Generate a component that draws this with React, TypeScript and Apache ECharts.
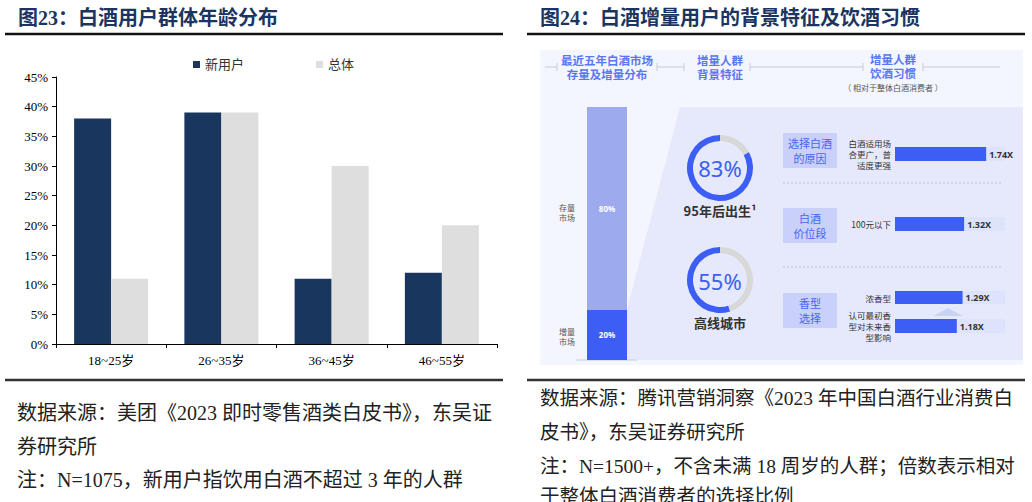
import React, { useEffect, useRef } from 'react';
import * as echarts from 'echarts';

// ---- Left chart data ----
const ageGroups = ['18~25岁', '26~35岁', '36~45岁', '46~55岁'];
const newUsers = [38, 39, 11, 12];
const allUsers = [11, 39, 30, 20];
const seriesNames = ['新用户', '总体'];

// ---- Right infographic data ----
const marketNames = ['增量市场', '存量市场'];
const marketShares = [20, 80];
const profileNames = ['95年后出生¹', '高线城市'];
const profileShares = [83, 55];
const habitGroups = ['选择白酒\n的原因', '白酒\n价位段', '香型\n选择'];
const habitLabels = ['白酒适用场\n合更广，普\n适度更强', '100元以下', '浓香型', '认可最初香\n型对未来香\n型影响'];
const habitRatios = [1.74, 1.32, 1.29, 1.18];

const SERIF = "'Liberation Serif', 'Noto Sans CJK SC', serif";
const SANS = "'Noto Sans CJK SC', 'Noto Sans', sans-serif";
const BLUE = '#3d5ef5';

export default function App() {
  const ref = useRef<HTMLDivElement>(null);
  useEffect(() => {
    const chart = echarts.init(ref.current!, undefined, { renderer: 'svg' });

    const txt = (x: number, y: number, text: string, o: any = {}) => ({
      type: 'text', x, y, z: 20,
      style: {
        text, fill: o.fill || '#222', fontSize: o.size || 12, fontFamily: o.family || SANS,
        fontWeight: o.weight || 'normal', textAlign: o.align || 'left', textVerticalAlign: 'middle',
        lineHeight: o.lh,
      },
    });
    const ln = (x1: number, y1: number, x2: number, y2: number, stroke: string, w = 1, dash?: number[], z = 5) => ({
      type: 'line', z, shape: { x1, y1, x2, y2 }, style: { stroke, lineWidth: w, lineDash: dash },
    });

    const habitGrids = [
      { top: 147, height: 14 },
      { top: 217, height: 14 },
      { top: 291, height: 13 },
      { top: 319, height: 14 },
    ];

    const hdr = { size: 11.5, weight: 'bold', fill: '#5a77f3', align: 'center', lh: 14 };

    const graphics: any[] = [
      // titles and rules
      txt(18, 18, '图23：白酒用户群体年龄分布', { size: 20, weight: 'bold', fill: '#1b3560', family: SERIF }),
      txt(540, 18, '图24：白酒增量用户的背景特征及饮酒习惯', { size: 20, weight: 'bold', fill: '#1b3560', family: SERIF }),
      ln(5, 34, 503, 34, '#111', 2.5),
      ln(527, 34, 1025, 34, '#111', 2.5),
      ln(5, 380, 503, 380, '#333', 2.5),
      ln(527, 380, 1025, 380, '#333', 2.5),
      // footers
      txt(17, 413, '数据来源：美团《2023 即时零售酒类白皮书》，东吴证', { size: 20, family: SERIF }),
      txt(17, 447, '券研究所', { size: 20, family: SERIF }),
      txt(17, 480, '注：N=1075，新用户指饮用白酒不超过 3 年的人群', { size: 20, family: SERIF }),
      txt(540, 398, '数据来源：腾讯营销洞察《2023 年中国白酒行业消费白', { size: 19.5, family: SERIF }),
      txt(540, 432, '皮书》，东吴证券研究所', { size: 19.5, family: SERIF }),
      txt(540, 466, '注：N=1500+，不含未满 18 周岁的人群；倍数表示相对', { size: 19.5, family: SERIF }),
      txt(540, 496, '于整体白酒消费者的选择比例', { size: 19.5, family: SERIF }),
      // infographic background
      { type: 'rect', z: 0, shape: { x: 540, y: 50, width: 483, height: 315 }, style: { fill: '#f3f6fe' } },
      { type: 'polygon', z: 1, shape: { points: [[680, 107], [1023, 107], [1023, 360], [627, 360], [627, 309]] }, style: { fill: '#e6e9fb' } },
      ln(576, 360, 637, 360, '#c8ccd8', 1),
      // header separators
      ln(545, 67, 557, 67, '#c5cbdc'), ln(557, 63, 557, 71, '#c5cbdc'),
      ln(657, 67, 684, 67, '#c5cbdc'), ln(657, 63, 657, 71, '#c5cbdc'), ln(684, 63, 684, 71, '#c5cbdc'),
      ln(750, 67, 863, 67, '#c5cbdc'), ln(750, 63, 750, 71, '#c5cbdc'), ln(863, 63, 863, 71, '#c5cbdc'),
      ln(923, 67, 1000, 67, '#c5cbdc'), ln(923, 63, 923, 71, '#c5cbdc'),
      txt(607, 67, '最近五年白酒市场\n存量及增量分布', hdr),
      txt(720, 67, '增量人群\n背景特征', hdr),
      txt(893, 66, '增量人群\n饮酒习惯', hdr),
      txt(893, 87.5, '（ 相对于整体白酒消费者 ）', { size: 8, fill: '#555', align: 'center' }),
      // market side labels
      txt(567, 212, '存量\n市场', { size: 8, fill: '#555', align: 'center', lh: 10 }),
      txt(567, 336, '增量\n市场', { size: 8, fill: '#555', align: 'center', lh: 10 }),
      // donut centres and captions
      txt(720, 168, `${profileShares[0]}%`, { size: 22, fill: BLUE, align: 'center', family: "'Noto Sans', sans-serif" }),
      txt(720, 210, profileNames[0], { size: 13, weight: 'bold', fill: '#333', align: 'center' }),
      txt(720, 281, `${profileShares[1]}%`, { size: 22, fill: BLUE, align: 'center', family: "'Noto Sans', sans-serif" }),
      txt(720, 322, profileNames[1], { size: 13, weight: 'bold', fill: '#333', align: 'center' }),
      // dotted separators
      ln(783, 183, 1003, 183, '#b9c0d8', 1, [2, 2]),
      ln(783, 267, 1003, 267, '#b9c0d8', 1, [2, 2]),
      // chevron
      { type: 'polygon', z: 5, shape: { points: [[933, 316], [948, 308], [963, 316]] }, style: { fill: '#cbd2f8' } },
    ];
    const boxY = [133, 208, 293];
    habitGroups.forEach((g, i) => {
      graphics.push({ type: 'rect', z: 5, shape: { x: 783, y: boxY[i], width: 54, height: 35 }, style: { fill: '#c9d0f9' } });
      graphics.push(txt(810, boxY[i] + 17.5, g, { size: 11, fill: '#4665f2', align: 'center', lh: 15 }));
    });

    const donutColors = [BLUE, '#d8d8d8'];

    chart.setOption({
      animation: false,
      legend: {
        data: seriesNames, left: 188, top: 53, itemWidth: 7, itemHeight: 7, itemGap: 72, icon: 'rect',
        textStyle: { fontSize: 13, color: '#333', fontFamily: SERIF },
      },
      grid: [
        { left: 56, right: 535, top: 77, bottom: 158 },
        { left: 587, width: 40, top: 107, height: 253 },
        ...habitGrids.map((g) => ({ left: 895, width: 110, top: g.top, height: g.height })),
      ],
      xAxis: [
        {
          gridIndex: 0, type: 'category', data: ageGroups,
          axisLine: { lineStyle: { color: '#000' } },
          axisTick: { show: true, length: 4, lineStyle: { color: '#000' } },
          axisLabel: { fontSize: 13, color: '#000', margin: 10, fontFamily: SERIF },
        },
        { gridIndex: 1, type: 'category', data: ['market'], show: false },
        ...habitGrids.map((_, i) => ({ gridIndex: i + 2, type: 'value', min: 0, max: 2.1, show: false })),
      ],
      yAxis: [
        {
          gridIndex: 0, type: 'value', min: 0, max: 45, interval: 5,
          axisLine: { show: true, lineStyle: { color: '#000' } },
          axisTick: { show: true, length: 4, lineStyle: { color: '#000' } },
          splitLine: { show: false },
          axisLabel: { formatter: '{value}%', fontSize: 13, color: '#000', margin: 8, fontFamily: SERIF },
        },
        { gridIndex: 1, type: 'value', min: 0, max: 100, show: false },
        ...habitGrids.map((_, i) => ({
          gridIndex: i + 2, type: 'category', data: [habitLabels[i]], z: 10,
          axisLine: { show: false }, axisTick: { show: false }, splitLine: { show: false },
          axisLabel: { show: true, fontSize: 8.5, color: '#333', margin: 4, lineHeight: 11, fontFamily: SANS },
        })),
      ],
      series: [
        {
          name: seriesNames[0], type: 'bar', xAxisIndex: 0, yAxisIndex: 0, data: newUsers,
          barWidth: 37, barGap: '0%', itemStyle: { color: '#19365e' },
        },
        {
          name: seriesNames[1], type: 'bar', xAxisIndex: 0, yAxisIndex: 0, data: allUsers,
          barWidth: 37, barGap: '0%', itemStyle: { color: '#dedede' },
        },
        ...marketShares.map((v, i) => ({
          name: marketNames[i], type: 'bar', xAxisIndex: 1, yAxisIndex: 1, stack: 'market', data: [v], z: 6,
          barWidth: 40, itemStyle: { color: i === 0 ? BLUE : '#9eaaee' },
          label: { show: true, position: 'inside', formatter: '{c}%', color: '#fff', fontSize: 8, fontWeight: 'bold', fontFamily: "'Noto Sans', sans-serif" },
        })),
        ...habitRatios.map((v, i) => ({
          name: 'habit' + i, type: 'bar', xAxisIndex: i + 2, yAxisIndex: i + 2, data: [v], z: 6,
          barWidth: habitGrids[i].height, itemStyle: { color: BLUE },
          showBackground: true, backgroundStyle: { color: '#dde3fb' },
          label: { show: true, position: 'right', distance: 3, formatter: '{c}X', color: '#333', fontSize: 9, fontWeight: 'bold', fontFamily: "'Noto Sans', sans-serif" },
        })),
        ...profileShares.map((v, i) => ({
          name: profileNames[i], type: 'pie', center: [720, i === 0 ? 168 : 280], radius: [27, 33], z: 6,
          startAngle: 90, clockwise: false, silent: true, label: { show: false }, labelLine: { show: false },
          data: [
            { value: v, itemStyle: { color: donutColors[0] } },
            { value: 100 - v, itemStyle: { color: donutColors[1] } },
          ],
        })),
      ],
      graphic: { elements: graphics },
    });
    return () => chart.dispose();
  }, []);
  return <div ref={ref} style={{ position: 'absolute', left: 0, top: 0, width: 1032, height: 502, background: '#fff' }} />;
}
